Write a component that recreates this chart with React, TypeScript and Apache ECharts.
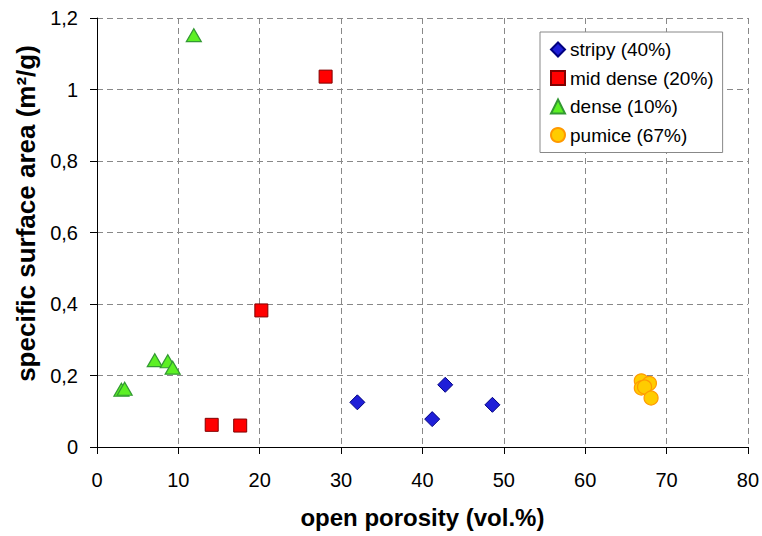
import React, { useEffect, useRef } from "react";
import * as echarts from "echarts";

const stripyX = [32.0, 41.2, 42.8, 48.6];
const stripyY = [0.125, 0.078, 0.174, 0.118];
const midDenseX = [14.1, 17.6, 20.2, 28.1];
const midDenseY = [0.062, 0.06, 0.382, 1.036];
const denseX = [3.0, 3.4, 7.1, 8.7, 9.3, 11.9];
const denseY = [0.16, 0.163, 0.243, 0.24, 0.222, 1.152];
const pumiceX = [66.9, 67.9, 66.9, 67.3, 68.1];
const pumiceY = [0.185, 0.178, 0.165, 0.168, 0.137];
const seriesNames = ["stripy (40%)", "mid dense (20%)", "dense (10%)", "pumice (67%)"];
const xTicks = [0, 10, 20, 30, 40, 50, 60, 70, 80];
const yTicks = [0, 0.2, 0.4, 0.6, 0.8, 1, 1.2];

const zip = (xs: number[], ys: number[]) => xs.map((x, i) => [x, ys[i]]);

export default function App() {
  const ref = useRef<HTMLDivElement>(null);
  useEffect(() => {
    const chart = echarts.init(ref.current!, undefined, { renderer: "svg" });
    const font = "'Liberation Sans', Arial, sans-serif";
    chart.setOption({
      animation: false,
      textStyle: { fontFamily: font },
      grid: { left: 97, right: 12, top: 18, bottom: 89, containLabel: false },
      xAxis: {
        type: "value",
        min: xTicks[0],
        max: xTicks[xTicks.length - 1],
        interval: 10,
        name: "open porosity (vol.%)",
        nameLocation: "middle",
        nameGap: 58,
        nameTextStyle: { fontSize: 24, fontWeight: "bold", color: "#000", fontFamily: font },
        axisLine: { onZero: false, lineStyle: { color: "#000", width: 1 } },
        axisTick: { show: true, length: 7, lineStyle: { color: "#000" } },
        axisLabel: { fontSize: 20, color: "#000", margin: 23, fontFamily: font },
        splitLine: { show: true, lineStyle: { color: "#888", type: [6, 4], width: 1 } },
      },
      yAxis: {
        type: "value",
        min: yTicks[0],
        max: yTicks[yTicks.length - 1],
        interval: 0.2,
        name: "specific surface area (m²/g)",
        nameLocation: "middle",
        nameGap: 58,
        nameTextStyle: {
          fontSize: 26,
          fontWeight: "bold",
          color: "#000",
          fontFamily: font,
          padding: [0, 0, 0, 38],
        },
        axisLine: { show: true, onZero: false, lineStyle: { color: "#000", width: 1 } },
        axisTick: { show: true, length: 7, lineStyle: { color: "#000" } },
        axisLabel: {
          fontSize: 20,
          color: "#000",
          margin: 19,
          fontFamily: font,
          formatter: (v: number) => String(Math.round(v * 10) / 10).replace(".", ","),
        },
        splitLine: { show: true, lineStyle: { color: "#888", type: [6, 4], width: 1 } },
      },
      legend: {
        orient: "vertical",
        left: 540,
        top: 32,
        width: 160,
        padding: [8, 9, 8, 10],
        itemGap: 9.5,
        itemWidth: 14,
        itemHeight: 14,
        backgroundColor: "#fff",
        borderColor: "#888",
        borderWidth: 1,
        borderRadius: 0,
        textStyle: { fontSize: 19, color: "#000", fontFamily: font, lineHeight: 19 },
        data: seriesNames,
      },
      series: [
        {
          name: seriesNames[0],
          type: "scatter",
          symbol: "diamond",
          symbolSize: 15,
          itemStyle: { color: "#1f1fd8", borderColor: "#000080", borderWidth: 1, opacity: 1 },
          data: zip(stripyX, stripyY),
        },
        {
          name: seriesNames[1],
          type: "scatter",
          symbol: "rect",
          symbolSize: 13,
          itemStyle: { color: "#ff0000", borderColor: "#800000", borderWidth: 1, opacity: 1 },
          data: zip(midDenseX, midDenseY),
        },
        {
          name: seriesNames[2],
          type: "scatter",
          symbol: "triangle",
          symbolSize: [15, 13],
          itemStyle: { color: "#5cf024", borderColor: "#339933", borderWidth: 1.2, opacity: 1 },
          data: zip(denseX, denseY),
        },
        {
          name: seriesNames[3],
          type: "scatter",
          symbol: "circle",
          symbolSize: 14,
          itemStyle: { color: "#ffcc00", borderColor: "#ff9900", borderWidth: 1.2, opacity: 1 },
          data: zip(pumiceX, pumiceY),
        },
      ],
    });
    return () => chart.dispose();
  }, []);
  return <div ref={ref} style={{ width: 762, height: 536, position: "absolute", left: 0, top: 0 }} />;
}
